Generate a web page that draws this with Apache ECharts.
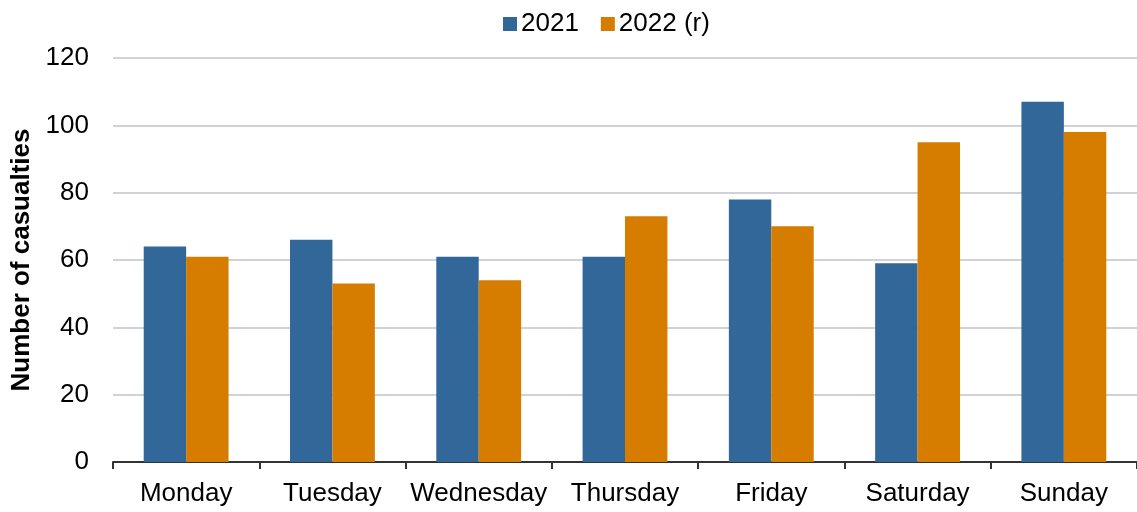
<!DOCTYPE html>
<html>
<head>
<meta charset="utf-8">
<script src="https://cdn.jsdelivr.net/npm/echarts@6/dist/echarts.min.js"></script>
<style>
  html, body { margin: 0; padding: 0; background: #fff; }
  #chart { width: 1137px; height: 512px; }
</style>
</head>
<body>
<div id="chart"></div>
<script>
// data
const days = ['Monday', 'Tuesday', 'Wednesday', 'Thursday', 'Friday', 'Saturday', 'Sunday']
const casualties2021 = [64, 66, 61, 61, 78, 59, 107]
const casualties2022 = [61, 53, 54, 73, 70, 95, 98]
const seriesNames = ['2021', '2022 (r)']
const itemColor = ['#32679a', '#d67d00']

const chart = echarts.init(document.getElementById('chart'))
const font = 'Liberation Sans, Arial, sans-serif'

chart.setOption({
  animation: false,
  textStyle: { fontFamily: font },
  legend: {
    top: 6,
    left: 498,
    itemWidth: 14,
    itemHeight: 14,
    itemGap: 22,
    icon: 'rect',
    textStyle: { fontSize: 26, color: '#000', fontFamily: font, padding: [0, 0, 0, -1] },
    data: seriesNames
  },
  grid: {
    left: 113,
    right: 0,
    top: 58,
    bottom: 50,
    containLabel: false,
    outerBoundsMode: 'none'
  },
  xAxis: {
    type: 'category',
    data: days,
    axisLine: { lineStyle: { color: '#333', width: 2 } },
    axisTick: { show: true, length: 7, lineStyle: { color: '#333', width: 2 } },
    axisLabel: { fontSize: 26, color: '#000', fontFamily: font, margin: 19, interval: 0 }
  },
  yAxis: {
    type: 'value',
    min: 0,
    max: 120,
    interval: 20,
    name: 'Number of casualties',
    nameLocation: 'middle',
    nameGap: 78,
    nameTextStyle: { fontSize: 26, fontWeight: 'bold', color: '#000', fontFamily: font },
    axisLine: { show: false },
    axisTick: { show: false },
    axisLabel: { fontSize: 26, color: '#000', fontFamily: font, margin: 24 },
    splitLine: { lineStyle: { color: '#cfd2d6', width: 2 } }
  },
  series: [
    {
      name: seriesNames[0],
      type: 'bar',
      data: casualties2021,
      itemStyle: { color: itemColor[0] },
      barGap: '0%',
      barCategoryGap: '42%'
    },
    {
      name: seriesNames[1],
      type: 'bar',
      data: casualties2022,
      itemStyle: { color: itemColor[1] },
      barGap: '0%',
      barCategoryGap: '42%'
    }
  ]
})
</script>
</body>
</html>
